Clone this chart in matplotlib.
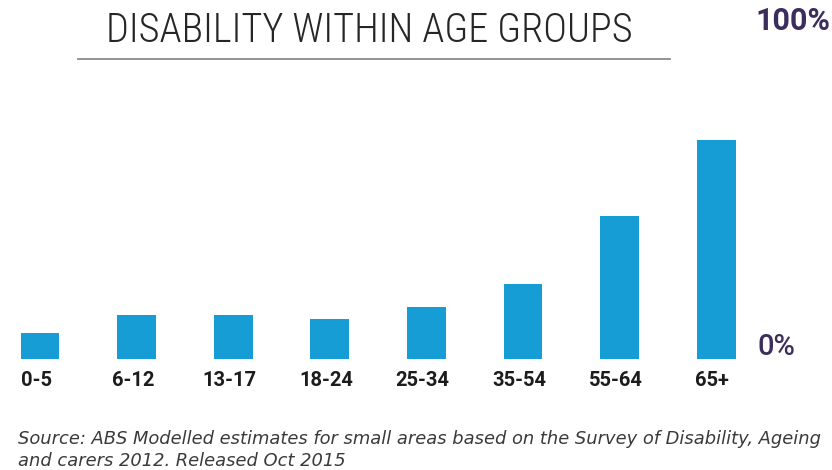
import matplotlib
matplotlib.use("Agg")
import matplotlib.pyplot as plt
from matplotlib import font_manager as fm

categories = ["0-5", "6-12", "13-17", "18-24", "25-34", "35-54", "55-64", "65+"]
values = [7.8, 13.2, 13.2, 12.0, 15.6, 22.5, 42.8, 65.6]
title = "DISABILITY WITHIN AGE GROUPS"
top_label = "100%"
bottom_label = "0%"
source = ("Source: ABS Modelled estimates for small areas based on the Survey of Disability, Ageing\n"
          "and carers 2012. Released Oct 2015")

names = {f.name for f in fm.fontManager.ttflist}
def pick(cands):
    for c in cands:
        if c in names:
            return c
    return "DejaVu Sans"

narrow = pick(["Roboto Condensed", "Liberation Sans Narrow", "DejaVu Sans"])
stretch = "condensed" if narrow == "DejaVu Sans" else "normal"
sans = pick(["Roboto", "Liberation Sans", "DejaVu Sans"])

W, H = 832, 470
fig = plt.figure(figsize=(W / 100, H / 100), dpi=100)
fig.patch.set_facecolor("white")

# axes: baseline at y=359px, 100% at y=25px; first bar center at x=40, spacing 96.6
base_px, top_px = 359, 25
ax = fig.add_axes([0, (H - base_px) / H, 1, (base_px - top_px) / H])
x = list(range(len(categories)))
ax.bar(x, values, width=0.40, color="#169dd6", zorder=2)
left = -40 / 96.6
ax.set_xlim(left, left + W / 96.6)
ax.set_ylim(0, 100)
ax.axis("off")

for xi, c in zip(x, categories):
    ax.annotate(c, (xi - 0.04, 0), xytext=(0, -21), textcoords="offset pixels",
                ha="center", va="center", fontsize=14.5, fontweight="bold",
                family=sans, color="#1c1c1c")

fig.text(369 / W, 1 - 31 / H, title, ha="center", va="center", fontsize=29,
         family=narrow, fontstretch=stretch, fontweight="light", color="#262626")
fig.add_artist(plt.Line2D([78 / W, 670 / W], [1 - 59 / H, 1 - 59 / H],
                          color="#8a8a8a", lw=1.3))

fig.text(793 / W, 1 - 21 / H, top_label, ha="center", va="center", fontsize=22,
         fontweight="bold", family=sans, color="#3b2d5c")
fig.text(776 / W, 1 - 347 / H, bottom_label, ha="center", va="center", fontsize=21,
         fontweight="medium", family=sans, color="#3b2d5c")

fig.text(18 / W, 1 - 450 / H, source, ha="left", va="center", fontsize=12.9,
         style="italic", color="#3a3a3a", linespacing=1.25)

fig.savefig("out.png", dpi=100, facecolor="white")
